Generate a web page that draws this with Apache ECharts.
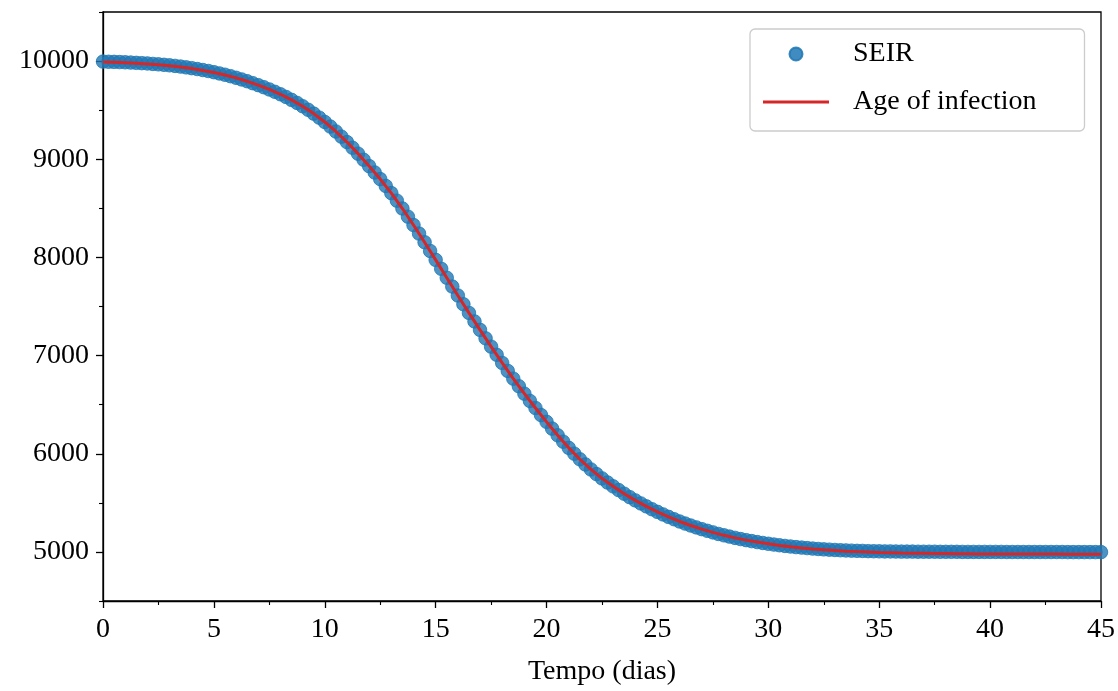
<!DOCTYPE html>
<html>
<head>
<meta charset="utf-8">
<script src="https://cdn.jsdelivr.net/npm/echarts@6/dist/echarts.min.js"></script>
<style>
  html, body { margin: 0; padding: 0; background: #ffffff; }
  #chart { width: 1118px; height: 691px; }
</style>
</head>
<body>
<div id="chart"></div>
<script>
// Susceptible population over time (days)
const seirTime = [
  0, 0.25, 0.5, 0.75, 1, 1.25, 1.5, 1.75, 2, 2.25, 2.5, 2.75,
  3, 3.25, 3.5, 3.75, 4, 4.25, 4.5, 4.75, 5, 5.25, 5.5, 5.75,
  6, 6.25, 6.5, 6.75, 7, 7.25, 7.5, 7.75, 8, 8.25, 8.5, 8.75,
  9, 9.25, 9.5, 9.75, 10, 10.25, 10.5, 10.75, 11, 11.25, 11.5, 11.75,
  12, 12.25, 12.5, 12.75, 13, 13.25, 13.5, 13.75, 14, 14.25, 14.5, 14.75,
  15, 15.25, 15.5, 15.75, 16, 16.25, 16.5, 16.75, 17, 17.25, 17.5, 17.75,
  18, 18.25, 18.5, 18.75, 19, 19.25, 19.5, 19.75, 20, 20.25, 20.5, 20.75,
  21, 21.25, 21.5, 21.75, 22, 22.25, 22.5, 22.75, 23, 23.25, 23.5, 23.75,
  24, 24.25, 24.5, 24.75, 25, 25.25, 25.5, 25.75, 26, 26.25, 26.5, 26.75,
  27, 27.25, 27.5, 27.75, 28, 28.25, 28.5, 28.75, 29, 29.25, 29.5, 29.75,
  30, 30.25, 30.5, 30.75, 31, 31.25, 31.5, 31.75, 32, 32.25, 32.5, 32.75,
  33, 33.25, 33.5, 33.75, 34, 34.25, 34.5, 34.75, 35, 35.25, 35.5, 35.75,
  36, 36.25, 36.5, 36.75, 37, 37.25, 37.5, 37.75, 38, 38.25, 38.5, 38.75,
  39, 39.25, 39.5, 39.75, 40, 40.25, 40.5, 40.75, 41, 41.25, 41.5, 41.75,
  42, 42.25, 42.5, 42.75, 43, 43.25, 43.5, 43.75, 44, 44.25, 44.5, 44.75,
  45
];
const seirValues = [
  9995, 9993, 9992, 9990, 9988, 9985, 9982, 9979, 9976, 9971, 9967, 9962,
  9957, 9951, 9944, 9936, 9928, 9919, 9909, 9899, 9887, 9874, 9861, 9846,
  9830, 9813, 9795, 9775, 9755, 9734, 9711, 9687, 9662, 9635, 9605, 9574,
  9540, 9504, 9465, 9424, 9380, 9333, 9283, 9230, 9175, 9117, 9057, 8995,
  8930, 8865, 8798, 8728, 8655, 8578, 8498, 8415, 8330, 8243, 8155, 8066,
  7975, 7884, 7793, 7703, 7612, 7523, 7435, 7348, 7262, 7176, 7091, 7008,
  6925, 6844, 6765, 6688, 6612, 6538, 6466, 6394, 6325, 6256, 6188, 6123,
  6060, 6001, 5944, 5891, 5840, 5793, 5749, 5707, 5668, 5630, 5593, 5558,
  5525, 5494, 5464, 5435, 5408, 5382, 5357, 5333, 5310, 5289, 5269, 5250,
  5232, 5215, 5199, 5183, 5169, 5156, 5143, 5131, 5120, 5110, 5100, 5091,
  5083, 5075, 5068, 5061, 5055, 5049, 5044, 5039, 5034, 5030, 5026, 5023,
  5020, 5017, 5015, 5013, 5011, 5010, 5008, 5007, 5006, 5005, 5005, 5004,
  5003, 5003, 5003, 5002, 5002, 5002, 5002, 5001, 5001, 5001, 5001, 5000,
  5000, 5000, 5000, 5000, 5000, 5000, 5000, 4999, 4999, 4999, 4999, 4999,
  4999, 4999, 4999, 4999, 4999, 4999, 4998, 4998, 4998, 4998, 4998, 4998,
  4998
];

const ageTime = [
  0, 0.5, 1, 1.5, 2, 2.5, 3, 3.5, 4, 4.5, 5, 5.5, 6, 6.5, 7, 7.5, 8, 8.5,
  9, 9.5, 10, 10.5, 11, 11.5, 12, 12.5, 13, 13.5, 14, 14.5, 15, 15.5,
  16, 16.5, 17, 17.5, 18, 18.5, 19, 19.5, 20, 20.5, 21, 21.5, 22, 22.5,
  23, 23.5, 24, 24.5, 25, 25.5, 26, 26.5, 27, 27.5, 28, 28.5, 29, 29.5,
  30, 30.5, 31, 31.5, 32, 32.5, 33, 33.5, 34, 34.5, 35, 35.5, 36, 36.5,
  37, 37.5, 38, 38.5, 39, 39.5, 40, 40.5, 41, 41.5, 42, 42.5, 43, 43.5,
  44, 44.5, 45
];
const ageValues = [
  9990, 9987, 9983, 9978, 9971, 9962, 9952, 9939, 9924, 9905, 9884, 9858,
  9829, 9794, 9755, 9711, 9662, 9605, 9540, 9465, 9380, 9283, 9175, 9057,
  8930, 8798, 8655, 8498, 8330, 8155, 7975, 7793, 7612, 7435, 7262, 7091,
  6925, 6765, 6612, 6466, 6325, 6188, 6060, 5944, 5840, 5749, 5668, 5593,
  5525, 5464, 5408, 5357, 5310, 5269, 5232, 5199, 5169, 5143, 5120, 5100,
  5083, 5066, 5052, 5040, 5030, 5022, 5015, 5008, 5003, 4999, 4995, 4992,
  4989, 4987, 4986, 4984, 4983, 4982, 4981, 4980, 4980, 4979, 4979, 4978,
  4978, 4978, 4978, 4977, 4977, 4977, 4977
];

// Axis ranges and ticks
const xMin = 0, xMax = 45, xStep = 5;
const yMin = 4500, yMax = 10500;
const yMajorTicks = [5000, 6000, 7000, 8000, 9000, 10000];
const yMinorTicks = [4500, 5500, 6500, 7500, 8500, 9500, 10500];

const seriesNames = ['SEIR', 'Age of infection'];
const xAxisTitle = 'Tempo (dias)';

const FONT = '"Liberation Serif", "DejaVu Serif", serif';
const AXIS_COLOR = '#000000';
const SEIR_COLOR = '#1f77b4';
const AGE_COLOR = '#d62728';

const chart = echarts.init(document.getElementById('chart'), null, { renderer: 'canvas' });

chart.setOption({
  animation: false,
  backgroundColor: '#ffffff',
  grid: {
    left: 103, right: 17, top: 12, bottom: 83,
    show: true, borderColor: AXIS_COLOR, borderWidth: 1.3,
    backgroundColor: 'transparent'
  },
  legend: {
    left: 750, top: 29,
    orient: 'vertical',
    padding: [11, 48, 15, 13],
    itemGap: 20,
    itemWidth: 66,
    itemHeight: 13,
    borderColor: '#cccccc',
    borderWidth: 1.3,
    borderRadius: 5,
    backgroundColor: 'rgba(255,255,255,0.8)',
    selectedMode: false,
    textStyle: { fontFamily: FONT, fontSize: 28, color: '#000', padding: [0, 0, 0, 19] },
    data: [
      { name: seriesNames[0], icon: 'circle', itemStyle: { color: SEIR_COLOR, opacity: 0.85 } },
      { name: seriesNames[1], icon: 'path://M0,0 H66 V3 H0 Z', itemStyle: { color: AGE_COLOR } }
    ]
  },
  xAxis: {
    type: 'value',
    min: xMin, max: xMax, interval: xStep,
    name: xAxisTitle,
    nameLocation: 'middle',
    nameGap: 57,
    nameTextStyle: { fontFamily: FONT, fontSize: 28, color: '#000' },
    axisLine: { show: true, onZero: false, lineStyle: { color: AXIS_COLOR, width: 1.3 } },
    axisTick: { show: true, inside: false, length: 7, lineStyle: { color: AXIS_COLOR, width: 1.3 } },
    minorTick: { show: true, splitNumber: 2, length: 4, lineStyle: { color: AXIS_COLOR, width: 1.1 } },
    axisLabel: { fontFamily: FONT, fontSize: 28, color: '#000', margin: 15 },
    splitLine: { show: false },
    minorSplitLine: { show: false }
  },
  yAxis: [
    {
      type: 'value',
      min: yMin, max: yMax,
      position: 'left',
      axisLine: { show: true, onZero: false, lineStyle: { color: AXIS_COLOR, width: 1.3 } },
      axisTick: { show: true, inside: false, length: 7, customValues: yMajorTicks,
                  lineStyle: { color: AXIS_COLOR, width: 1.3 } },
      axisLabel: { fontFamily: FONT, fontSize: 28, color: '#000', margin: 14,
                   customValues: yMajorTicks, formatter: (v) => String(v) },
      splitLine: { show: false }
    },
    {
      type: 'value',
      min: yMin, max: yMax,
      position: 'left',
      axisLine: { show: false },
      axisTick: { show: true, inside: false, length: 4, customValues: yMinorTicks,
                  lineStyle: { color: AXIS_COLOR, width: 1.1 } },
      axisLabel: { show: false, customValues: yMinorTicks },
      splitLine: { show: false }
    }
  ],
  series: [
    {
      name: seriesNames[0],
      type: 'scatter',
      yAxisIndex: 0,
      symbol: 'circle',
      symbolSize: 13.5,
      clip: true,
      itemStyle: { color: SEIR_COLOR, borderColor: SEIR_COLOR, borderWidth: 1, opacity: 0.8 },
      emphasis: { disabled: true },
      data: seirTime.map((t, i) => [t, seirValues[i]]),
      z: 2
    },
    {
      name: seriesNames[1],
      type: 'line',
      yAxisIndex: 0,
      symbol: 'none',
      showSymbol: false,
      clip: true,
      lineStyle: { color: AGE_COLOR, width: 3 },
      itemStyle: { color: AGE_COLOR },
      emphasis: { disabled: true },
      data: ageTime.map((t, i) => [t, ageValues[i]]),
      z: 3
    }
  ]
});
</script>
</body>
</html>
